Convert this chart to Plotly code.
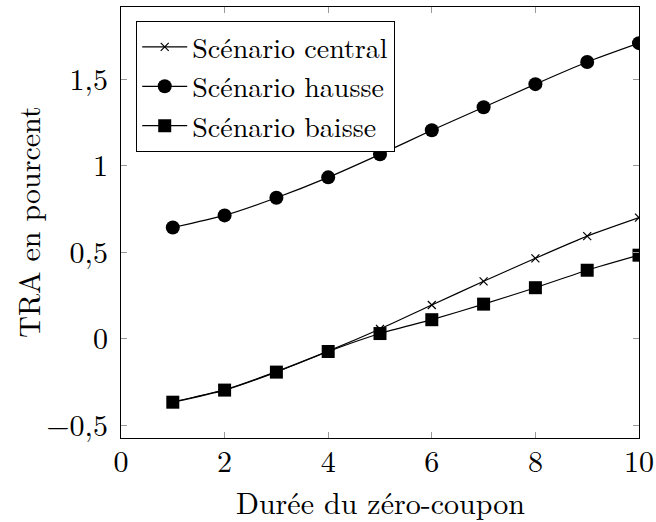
import plotly.graph_objects as go

durees = [1, 2, 3, 4, 5, 6, 7, 8, 9, 10]
central = [-0.365, -0.295, -0.19, -0.072, 0.056, 0.195, 0.332, 0.465, 0.593, 0.70]
hausse = [0.643, 0.713, 0.815, 0.933, 1.066, 1.205, 1.338, 1.472, 1.60, 1.709]
baisse = [-0.367, -0.297, -0.193, -0.074, 0.03, 0.11, 0.20, 0.295, 0.396, 0.483]

x_ticks = [0, 2, 4, 6, 8, 10]
x_labels = ["0", "2", "4", "6", "8", "10"]
y_ticks = [-0.5, 0, 0.5, 1, 1.5]
y_labels = ["\u22120,5", "0", "0,5", "1", "1,5"]

FONT = "Latin Modern Roman"
FS = 30

fig = go.Figure()
series = [
    ("Scénario central", central, dict(symbol="x-thin", size=8, line=dict(width=1.2, color="black"))),
    ("Scénario hausse", hausse, dict(symbol="circle", size=14)),
    ("Scénario baisse", baisse, dict(symbol="square", size=13)),
]
for i, (name, vals, mk) in enumerate(series):
    fig.add_trace(go.Scatter(
        x=durees, y=vals, name=name, mode="lines+markers",
        line=dict(color="black", width=1.2, shape="spline", smoothing=0.6),
        marker=dict(color="black", **mk),
        legendgroup=f"g{i}",
    ))

axis_common = dict(
    showline=True, linecolor="black", linewidth=1.2, mirror="ticks",
    ticks="inside", ticklen=6, tickcolor="#999999", tickwidth=1,
    showgrid=False, zeroline=False, automargin=False,
    tickfont=dict(family=FONT, size=FS, color="black"),
)

fig.update_layout(
    width=656, height=522,
    margin=dict(l=121, r=17, t=7, b=84),
    paper_bgcolor="white", plot_bgcolor="white",
    font=dict(family=FONT, size=FS, color="black"),
    xaxis=dict(range=[0, 10], tickvals=x_ticks, ticktext=x_labels,
               ticklabelstandoff=-3, **axis_common),
    yaxis=dict(range=[-0.574, 1.918], tickvals=y_ticks, ticktext=y_labels,
               ticklabelstandoff=6, **axis_common),
    legend=dict(x=0.029, y=0.9675, xanchor="left", yanchor="top",
                bordercolor="black", borderwidth=1.2, bgcolor="white",
                font=dict(family=FONT, size=28, color="black"), tracegroupgap=0,
                itemwidth=45),
    showlegend=True,
    annotations=[
        dict(text="Durée du zéro-coupon", xref="paper", yref="paper", x=0.5, y=-0.147,
             xanchor="center", yanchor="middle", showarrow=False,
             font=dict(family=FONT, size=FS, color="black")),
        dict(text="TRA en pourcent", xref="paper", yref="paper", x=-0.181, y=0.5,
             xanchor="center", yanchor="middle", showarrow=False, textangle=-90,
             font=dict(family=FONT, size=FS, color="black")),
    ],
)

fig.write_html("out.html", config={"displayModeBar": False},
               post_script="document.body.style.margin='0';document.body.style.overflow='hidden';")
